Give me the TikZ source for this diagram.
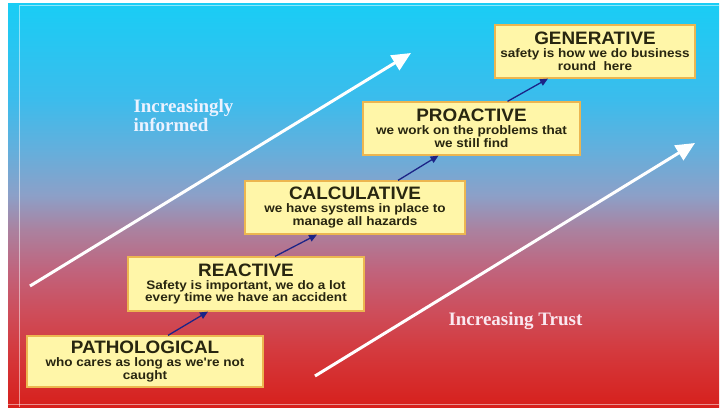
\documentclass[tikz,border=0pt]{standalone}
\usepackage{fontspec}
\setmainfont{Liberation Serif}
\newfontfamily\stagefont{Liberation Sans}[FakeStretch=1.1]
\newfontfamily\stageheadfont{Liberation Sans}[FakeStretch=1.05]
\usetikzlibrary{arrows.meta}
\usepackage{color}

\definecolor{boxfill}{RGB}{255,246,168}
\definecolor{boxedge}{RGB}{236,182,80}
\definecolor{stageink}{RGB}{40,38,16}
\definecolor{ladderblue}{RGB}{28,36,135}
\definecolor{informink}{RGB}{236,242,255}
\definecolor{trustink}{RGB}{250,232,240}

% cyan sky fading down into red
\pgfdeclareverticalshading{skyfade}{100bp}{
  rgb(0bp)=(.843,.125,.110); rgb(25bp)=(.843,.125,.110);
  rgb(32bp)=(.831,.227,.243); rgb(37bp)=(.804,.306,.361);
  rgb(42bp)=(.753,.392,.490); rgb(47bp)=(.667,.510,.627);
  rgb(51.2bp)=(.549,.627,.784); rgb(56.8bp)=(.392,.686,.863);
  rgb(63bp)=(.235,.737,.925); rgb(75bp)=(.098,.804,.961);
  rgb(100bp)=(.098,.804,.961)}

\newcommand\stagetitle{\stageheadfont\bfseries\fontsize{18}{18}\selectfont}

\tikzset{
  stage/.style = {draw = boxedge, fill = boxfill, line width = 1.2pt, align = center,
                  inner sep = 2pt, text = stageink,
                  font = \stagefont\bfseries\fontsize{12.3}{12.8}\selectfont},
  climb/.style = {-{Triangle[length=8pt,width=7pt]}, line width = 1.3pt, ladderblue},
  trend/.style = {-{Triangle[length=19pt,width=17pt]}, line width = 3pt, white},
  trendtext/.style = {font = \bfseries\fontsize{19}{17}\selectfont, align = left}
}

\begin{document}
\begin{tikzpicture}[x = 1pt, y = -1pt]
  \useasboundingbox (0,0) rectangle (721,410);
  \shade [shading = skyfade] (8,3) rectangle (719,407);
  \draw [white, opacity = .5, line width = 1pt] (19,407) -- (19,5) -- (719,5);
  \draw [white, opacity = .5, line width = 1pt] (8,404) -- (719,404);

  % the ladder
  \node (path)   at (145,361.5) [stage, minimum width = 236pt, minimum height = 51pt]
    {{\stagetitle PATHOLOGICAL}\\ who cares as long as we're not\\ caught};
  \node (react)  at (246,284)   [stage, minimum width = 236pt, minimum height = 54pt]
    {{\stagetitle REACTIVE}\\ Safety is important, we do a lot\\ every time we have an accident};
  \node (calc)   at (355,207.5) [stage, minimum width = 220pt, minimum height = 53pt]
    {{\stagetitle CALCULATIVE}\\ we have systems in place to\\ manage all hazards};
  \node (proact) at (471.5,128.5) [stage, minimum width = 217pt, minimum height = 53pt]
    {{\stagetitle PROACTIVE}\\ we work on the problems that\\ we still find};
  \node (gen)    at (595,51.5)  [stage, minimum width = 200pt, minimum height = 53pt]
    {{\stagetitle GENERATIVE}\\ safety is how we do business\\ round\ \ here};

  \draw [climb] ([xshift = 23pt]path.north) -- ([xshift = -38pt]react.south);
  \draw [climb] ([xshift = 29pt]react.north) -- ([xshift = -38pt]calc.south);
  \draw [climb] ([xshift = 43pt]calc.north) -- ([xshift = -33pt]proact.south);
  \draw [climb] ([xshift = 36pt]proact.north) -- ([xshift = -47pt]gen.south);

  % the two trends
  \coordinate (inf0) at (30,286);
  \coordinate (inf1) at (411,53);
  \coordinate (tru0) at (315,376);
  \coordinate (tru1) at (695,143);
  \draw [trend] (inf0) -- (inf1);
  \draw [trend] (tru0) -- (tru1);
  \node (inform) at (130,131) [trendtext, anchor = base west, text = informink]
    {Increasingly\\ informed};
  \node (trust)  at (445,325) [trendtext, anchor = base west, text = trustink]
    {Increasing Trust};
\end{tikzpicture}
\end{document}
